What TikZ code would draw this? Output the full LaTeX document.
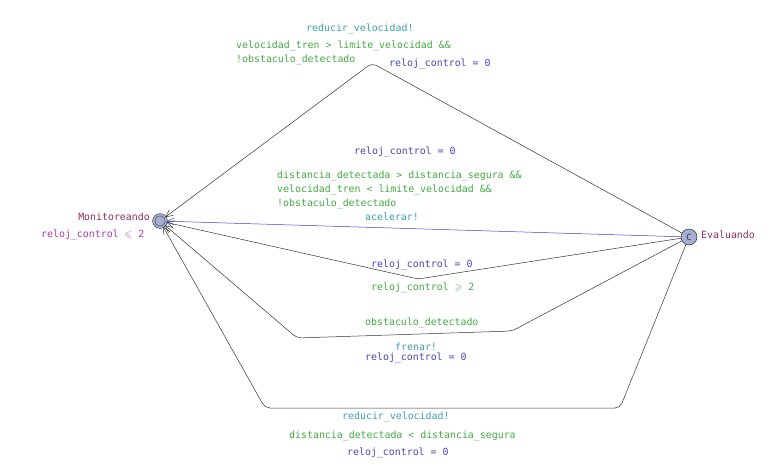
\documentclass[tikz,border=0pt]{standalone}
\usepackage{amssymb}
\usepackage{fontspec}
\setmainfont{DejaVu Sans Mono}
\usetikzlibrary{positioning}
\usetikzlibrary {arrows.meta}
\definecolor{locname}{RGB}{140,45,95}
\definecolor{invcol}{RGB}{165,60,165}
\definecolor{guardcol}{RGB}{65,170,65}
\definecolor{synccol}{RGB}{60,160,170}
\definecolor{assigncol}{RGB}{70,70,180}
\definecolor{locfill}{RGB}{165,175,212}
\definecolor{edgeblue}{RGB}{60,60,230}
\tikzset{location/.style={circle,draw=black!75,fill=locfill,
inner sep=0pt,minimum size=16pt, line width=0.6pt}}
\tikzset{transition/.style={draw=black!80,line width=0.5pt,rounded corners=5pt,
-{Straight Barb[length=7pt,width=7pt]}}}
\tikzset{lbl/.style={inner sep=0pt,yshift=-1.5pt,font=\fontsize{9.9}{14}\selectfont,align=left}}

\begin{document}
\begin{tikzpicture}[x=1pt,y=-1pt]
        \useasboundingbox (0,0) rectangle (770,463);

        \node[location,double=locfill,double distance=1.6pt,minimum size=12.5pt] (locMon) at (160,221) {};
        \node[location,font=\fontsize{8.5}{9}\selectfont,text=black!80] (locEva) at (689,237) {C};

        \node[lbl,text=locname,anchor=east] (nameMon) at (150,215) {Monitoreando};
        \node[lbl,text=invcol,anchor=west] (invMon) at (41,233) {reloj\_control $\leqslant$ 2};
        \node[lbl,text=locname,anchor=west] (nameEva) at (701,233) {Evaluando};

        \coordinate (nailTop) at (372,63);
        \coordinate (nailMid) at (418,279);
        \coordinate (nailLowA) at (297,338);
        \coordinate (nailLowB) at (512,331);
        \coordinate (nailBotA) at (265,408);
        \coordinate (nailBotB) at (620,408);

        \draw[transition] (locEva) -- (nailTop) -- (locMon);
        \node[lbl,text=synccol,anchor=west] (syncTop) at (306,27) {reducir\_velocidad!};
        \node[lbl,text=guardcol,anchor=west] (guardTop) at (236,51) {velocidad\_tren > limite\_velocidad \&\&\\!obstaculo\_detectado};
        \node[lbl,text=assigncol,anchor=west] (assignTop) at (389,62) {reloj\_control = 0};

        \draw[transition,draw=edgeblue] (locEva) -- (locMon);
        \node[lbl,text=assigncol,anchor=west] (assignAcc) at (354,150) {reloj\_control = 0};
        \node[lbl,text=guardcol,anchor=west] (guardAcc) at (277,188) {distancia\_detectada > distancia\_segura \&\&\\velocidad\_tren < limite\_velocidad \&\&\\!obstaculo\_detectado};
        \node[lbl,text=synccol,anchor=west] (syncAcc) at (365,215) {acelerar!};

        \draw[transition] (locEva) -- (nailMid) -- (locMon);
        \node[lbl,text=assigncol,anchor=west] (assignMid) at (371,263) {reloj\_control = 0};
        \node[lbl,text=guardcol,anchor=west] (guardMid) at (371,286) {reloj\_control $\geqslant$ 2};

        \draw[transition] (locEva) -- (nailLowB) -- (nailLowA) -- (locMon);
        \node[lbl,text=guardcol,anchor=west] (guardLow) at (365,321) {obstaculo\_detectado};
        \node[lbl,text=synccol,anchor=west] (syncLow) at (395,345) {frenar!};
        \node[lbl,text=assigncol,anchor=west] (assignLow) at (365,356) {reloj\_control = 0};

        \draw[transition] (locEva) -- (nailBotB) -- (nailBotA) -- (locMon);
        \node[lbl,text=synccol,anchor=west] (syncBot) at (342,415) {reducir\_velocidad!};
        \node[lbl,text=guardcol,anchor=west] (guardBot) at (289,434) {distancia\_detectada < distancia\_segura};
        \node[lbl,text=assigncol,anchor=west] (assignBot) at (347,451) {reloj\_control = 0};

    \end{tikzpicture}
\end{document}
